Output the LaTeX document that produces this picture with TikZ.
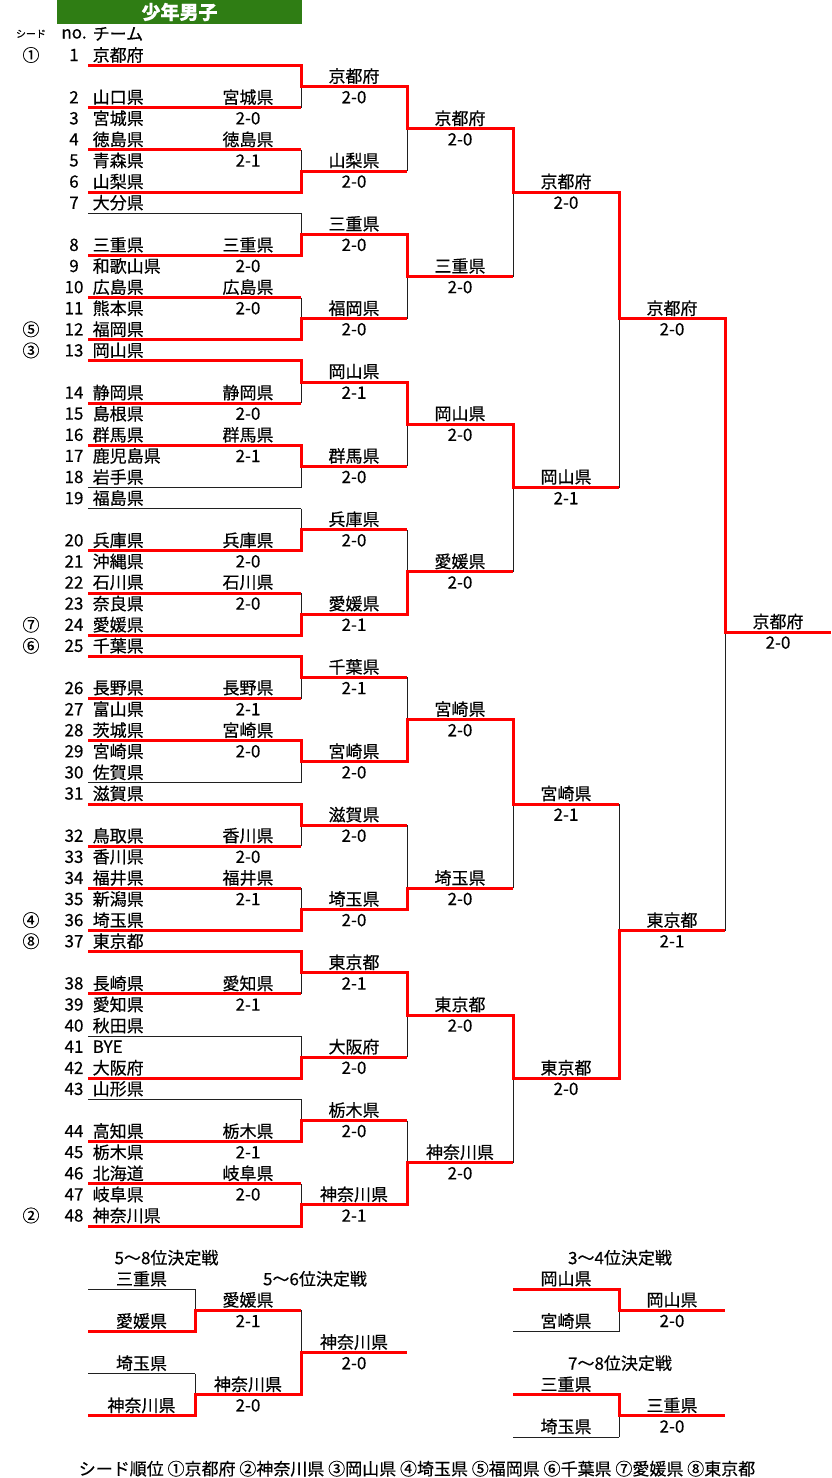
\documentclass[tikz,border=0pt]{standalone}
\usepackage{fontspec}
\setmainfont{Noto Sans CJK JP}[FakeBold=0.4]
\definecolor{BracketRed}{HTML}{FF0000}
\definecolor{BracketInk}{HTML}{202020}
\definecolor{TitleGreen}{HTML}{2F7D14}

\begin{document}
\begin{tikzpicture}[
    x=1pt, y=-21.1pt,
    font=\fontsize{17}{20}\selectfont,
    win/.style={draw=BracketRed, line width=3pt},
    lose/.style={draw=BracketInk, line width=1pt},
    team/.style={anchor=west, inner sep=0pt},
    entry/.style={inner sep=0pt},
    seed/.style={inner sep=0pt},
    heading/.style={inner sep=0pt},
    title bar/.style={fill=TitleGreen, text=white, inner sep=0pt,
                      minimum width=245pt, minimum height=24pt,
                      font=\fontsize{19}{21}\selectfont\bfseries}
]
    \useasboundingbox (0,-2.6066) rectangle (831,67.441);

    \node[title bar] (title) at (179.5,-2.038) {少年男子};
    \node[seed, font=\fontsize{10}{12}\selectfont] (seedhead) at (31,-1) {シード};
    \node[entry] (nohead) at (74,-1) {no.};
    \node[team] (teamhead) at (92.5,-1) {チーム};

    % draw order: row / number / team
    \foreach \r/\n/\t in {0/1/京都府, 2/2/山口県, 3/3/宮城県, 4/4/徳島県,
        5/5/青森県, 6/6/山梨県, 7/7/大分県, 9/8/三重県, 10/9/和歌山県,
        11/10/広島県, 12/11/熊本県, 13/12/福岡県, 14/13/岡山県, 16/14/静岡県,
        17/15/島根県, 18/16/群馬県, 19/17/鹿児島県, 20/18/岩手県, 21/19/福島県,
        23/20/兵庫県, 24/21/沖縄県, 25/22/石川県, 26/23/奈良県, 27/24/愛媛県,
        28/25/千葉県, 30/26/長野県, 31/27/富山県, 32/28/茨城県, 33/29/宮崎県,
        34/30/佐賀県, 35/31/滋賀県, 37/32/鳥取県, 38/33/香川県, 39/34/福井県,
        40/35/新潟県, 41/36/埼玉県, 42/37/東京都, 44/38/長崎県, 45/39/愛知県,
        46/40/秋田県, 47/41/BYE, 48/42/大阪府, 49/43/山形県, 51/44/高知県,
        52/45/栃木県, 53/46/北海道, 54/47/岐阜県, 55/48/神奈川県} {
        \node[entry] (no\n) at (74,\r) {\n};
        \node[team] (team\n) at (92.5,\r) {\t};
    }

    \foreach \r/\s in {0/①, 13/⑤, 14/③, 27/⑦, 28/⑥, 41/④, 42/⑧, 55/②}
        \node[seed] (seed\r) at (31,\r) {\s};

    % entry lines under the team rows
    \foreach \r/\c in {0/win, 2/win, 4/win, 6/win, 7/lose, 9/win, 11/win,
        13/win, 14/win, 16/win, 18/win, 20/lose, 21/lose, 23/win, 25/win,
        27/win, 28/win, 30/win, 32/win, 34/lose, 35/win, 37/win, 39/win,
        41/win, 42/win, 44/win, 46/lose, 48/win, 49/lose, 51/win, 53/win,
        55/win}
        \draw[\c] (88,\r+.5) -- (301,\r+.5);

    % first games
    \foreach \r/\t/\g in {2/宮城県/2-0, 4/徳島県/2-1, 9/三重県/2-0,
        11/広島県/2-0, 16/静岡県/2-0, 18/群馬県/2-1, 23/兵庫県/2-0,
        25/石川県/2-0, 30/長野県/2-1, 32/宮崎県/2-0, 37/香川県/2-0,
        39/福井県/2-1, 44/愛知県/2-1, 51/栃木県/2-1, 53/岐阜県/2-0} {
        \node[entry] (pre\r) at (248,\r) {\t};
        \node[entry] (prescore\r) at (248,\r+1) {\g};
    }

    % placing games
    \foreach \r/\c/\t in {58/lose/三重県, 60/win/愛媛県, 62/lose/埼玉県,
        64/win/神奈川県} {
        \draw[\c] (88,\r+.5) -- (195,\r+.5);
        \node[entry] (left\r) at (141.5,\r) {\t};
    }
    \foreach \r/\c/\t in {58/win/岡山県, 60/lose/宮崎県, 63/win/三重県,
        65/lose/埼玉県} {
        \draw[\c] (513,\r+.5) -- (619,\r+.5);
        \node[entry] (right\r) at (566,\r) {\t};
    }

    % from / at / winner / loser / meet / name / score
    \def\joins{88/301/0/2/1/京都府/2-0, 88/301/6/4/5/山梨県/2-0,
        88/301/9/7/8/三重県/2-0, 88/301/13/11/12/福岡県/2-0,
        88/301/14/16/15/岡山県/2-1, 88/301/18/20/19/群馬県/2-0,
        88/301/23/21/22/兵庫県/2-0, 88/301/27/25/26/愛媛県/2-1,
        88/301/28/30/29/千葉県/2-1, 88/301/32/34/33/宮崎県/2-0,
        88/301/35/37/36/滋賀県/2-0, 88/301/41/39/40/埼玉県/2-0,
        88/301/42/44/43/東京都/2-1, 88/301/48/46/47/大阪府/2-0,
        88/301/51/49/50/栃木県/2-0, 88/301/55/53/54/神奈川県/2-1,
        301/407/1/5/3/京都府/2-0, 301/407/8/12/10/三重県/2-0,
        301/407/15/19/17/岡山県/2-0, 301/407/26/22/24/愛媛県/2-0,
        301/407/33/29/31/宮崎県/2-0, 301/407/40/36/39/埼玉県/2-0,
        301/407/43/47/45/東京都/2-0, 301/407/54/50/52/神奈川県/2-0,
        407/513/3/10/6/京都府/2-0, 407/513/17/24/20/岡山県/2-1,
        407/513/31/39/35/宮崎県/2-1, 407/513/45/52/48/東京都/2-0,
        513/619/6/20/12/京都府/2-0, 513/619/48/35/41/東京都/2-1,
        619/725/12/41/26.85/京都府/2-0,
        88/195/60/58/59/愛媛県/2-1, 88/195/64/62/63/神奈川県/2-0,
        195/301/63/59/61/神奈川県/2-0,
        513/619/58/60/59/岡山県/2-0, 513/619/63/65/64/三重県/2-0}
    \foreach \s/\x/\w/\l/\m/\t/\g in \joins
        \draw[lose] (\x,\l+.5) -- (\x,\m+.5);
    \foreach \s/\x/\w/\l/\m/\t/\g in \joins {
        \draw[win] (\s,\w+.5) -| (\x,\m+.5) -- (\x+106,\m+.5);
        \node[entry] (j\x-\w) at (\x+53,\m) {\t};
        \node[entry] (g\x-\w) at (\x+53,\m+1) {\g};
    }

    \node[heading] (place58) at (166.5,57) {5〜8位決定戦};
    \node[heading] (place56) at (315,58) {5〜6位決定戦};
    \node[heading] (place34) at (620,57) {3〜4位決定戦};
    \node[heading] (place78) at (620,62) {7〜8位決定戦};
    \node[heading] (seedorder) at (417,67)
        {シード順位 ①京都府 ②神奈川県 ③岡山県 ④埼玉県 ⑤福岡県 ⑥千葉県 ⑦愛媛県 ⑧東京都};
\end{tikzpicture}
\end{document}
